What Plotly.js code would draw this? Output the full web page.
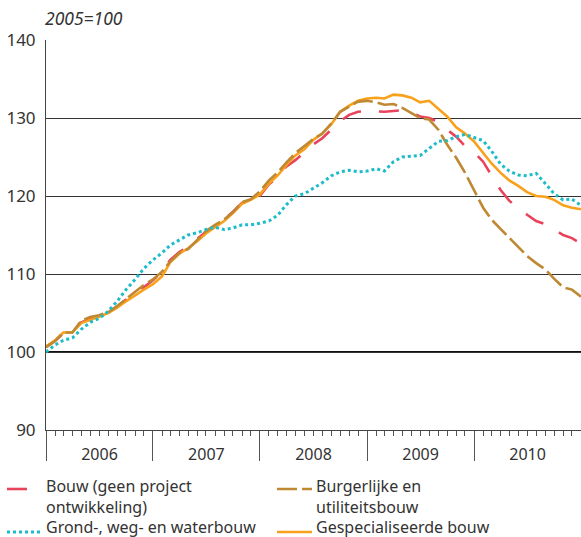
<!DOCTYPE html>
<html>
<head>
<meta charset="utf-8">
<script src="https://cdn.plot.ly/plotly-3.0.1.min.js"></script>
<style>
  html, body { margin: 0; padding: 0; background: #fff; }
  #chart { width: 581px; height: 537px; }
</style>
</head>
<body>
<div id="chart"></div>
<script>
// Monthly dates, Jan 2006 .. Jan 2011
const months = [
  "2006-01-01","2006-02-01","2006-03-01","2006-04-01","2006-05-01","2006-06-01",
  "2006-07-01","2006-08-01","2006-09-01","2006-10-01","2006-11-01","2006-12-01",
  "2007-01-01","2007-02-01","2007-03-01","2007-04-01","2007-05-01","2007-06-01",
  "2007-07-01","2007-08-01","2007-09-01","2007-10-01","2007-11-01","2007-12-01",
  "2008-01-01","2008-02-01","2008-03-01","2008-04-01","2008-05-01","2008-06-01",
  "2008-07-01","2008-08-01","2008-09-01","2008-10-01","2008-11-01","2008-12-01",
  "2009-01-01","2009-02-01","2009-03-01","2009-04-01","2009-05-01","2009-06-01",
  "2009-07-01","2009-08-01","2009-09-01","2009-10-01","2009-11-01","2009-12-01",
  "2010-01-01","2010-02-01","2010-03-01","2010-04-01","2010-05-01","2010-06-01",
  "2010-07-01","2010-08-01","2010-09-01","2010-10-01","2010-11-01","2010-12-01",
  "2011-01-01"
];

// legend texts, one list of lines per series
const bouwLabel = ["Bouw (geen project", "ontwikkeling)"];
const burgerlijkLabel = ["Burgerlijke en", "utiliteitsbouw"];
const grondLabel = ["Grond-, weg- en waterbouw"];
const gespecialiseerdLabel = ["Gespecialiseerde bouw"];

const bouw = [
  100.7,101.4,102.4,102.5,103.8,104.2,104.6,105.1,105.8,106.7,107.6,108.3,
  109.2,110.3,111.8,112.8,113.5,114.5,115.4,116.1,117.0,118.0,119.1,119.4,
  120.0,121.5,122.4,123.8,124.6,125.6,126.6,127.4,128.5,129.6,130.4,130.8,
  130.9,130.8,130.8,130.9,131.0,130.7,130.2,130.0,129.5,128.5,127.6,126.4,
  125.6,124.4,122.7,120.8,119.4,118.4,117.6,116.8,116.4,115.7,115.0,114.6,
  113.9
];

const burgerlijk = [
  100.6,101.4,102.5,102.5,104.0,104.5,104.7,105.1,105.9,106.8,107.8,108.6,
  109.3,110.3,111.6,112.7,113.2,114.4,115.5,116.3,117.0,117.9,119.2,119.6,
  120.6,122.0,123.0,124.3,125.5,126.4,127.3,128.0,129.3,130.8,131.5,132.1,
  132.2,132.0,131.7,131.8,131.3,130.6,130.0,129.8,128.5,126.6,124.9,123.0,
  120.8,118.5,117.0,115.8,114.6,113.4,112.3,111.4,110.6,109.4,108.3,108.0,
  107.1
];

const grond = [
  100.0,100.9,101.5,101.8,102.9,103.8,104.3,105.2,106.5,108.0,109.3,110.7,
  111.8,112.7,113.7,114.4,115.0,115.3,115.7,116.0,115.7,115.9,116.3,116.3,
  116.5,116.8,117.5,118.9,120.0,120.3,121.0,121.7,122.6,123.1,123.3,123.1,
  123.2,123.5,123.2,124.4,125.0,125.1,125.2,126.1,127.0,127.1,127.6,127.9,
  127.5,127.1,125.8,124.1,123.2,122.7,122.6,122.9,121.6,120.3,119.5,119.6,
  118.8
];

const gespecialiseerd = [
  100.7,101.5,102.5,102.5,103.7,104.1,104.5,105.0,105.7,106.5,107.3,108.0,
  108.7,109.7,111.5,112.6,113.3,114.2,115.2,116.0,116.8,117.8,119.0,119.5,
  120.2,121.6,122.6,124.0,125.2,126.0,127.2,128.0,129.2,130.8,131.6,132.2,
  132.5,132.6,132.5,133.0,132.9,132.6,132.0,132.2,131.2,130.2,128.8,128.0,
  127.0,125.5,124.2,123.0,122.0,121.3,120.5,120.0,119.9,119.5,118.8,118.5,
  118.3
];

const yTicks = [90, 100, 110, 120, 130, 140];
const unitLabel = "2005=100";

const FONT = "Noto Sans, Open Sans, sans-serif";
const TXT = "#333333";

const styles = {
  bouw:  { color: "#e9435c", width: 2.6, dash: "20px,18px" },
  burg:  { color: "#bf8833", width: 2.6, dash: "20px,5px" },
  grond: { color: "#1cbcc9", width: 3,   dash: "3px,3px" },
  gesp:  { color: "#f9a11b", width: 2.6, dash: "solid" }
};

const traces = [
  { x: months, y: bouw, name: bouwLabel.join(" "), type: "scatter", mode: "lines", line: styles.bouw },
  { x: months, y: gespecialiseerd, name: gespecialiseerdLabel.join(" "), type: "scatter", mode: "lines", line: styles.gesp },
  { x: months, y: burgerlijk, name: burgerlijkLabel.join(" "), type: "scatter", mode: "lines", line: styles.burg },
  { x: months, y: grond, name: grondLabel.join(" "), type: "scatter", mode: "lines", line: styles.grond }
];

// ---- hand-placed legend (plot area: x 46..581 px, y 40..430 px) ----
const PL = 46, PW = 535, PB = 430, PH = 390;
const px = p => (p - PL) / PW;
const py = p => (PB - p) / PH;

// sx: symbol start, tx: text start, ty: text top, sy: symbol y (all px)
const legendItems = [
  { lines: bouwLabel, style: styles.bouw, sx: 7, tx: 45, ty: 474, sy: 489 },
  { lines: burgerlijkLabel, style: styles.burg, sx: 277, tx: 315, ty: 474, sy: 489 },
  { lines: grondLabel, style: styles.grond, sx: 7, tx: 45, ty: 515, sy: 532 },
  { lines: gespecialiseerdLabel, style: styles.gesp, sx: 277, tx: 315, ty: 515, sy: 532 }
];

const shapes = [
  { type: "line", xref: "paper", yref: "y", x0: 0, x1: 1, y0: 100, y1: 100,
    line: { color: "#111111", width: 2 }, layer: "below" }
];
const annotations = [
  { text: unitLabel, xref: "paper", yref: "paper", x: px(44), y: py(18), xanchor: "left", yanchor: "middle",
    showarrow: false, borderpad: 0, font: { family: FONT, size: 17.5, color: TXT, style: "italic" } }
];
legendItems.forEach(it => {
  shapes.push({ type: "line", xref: "paper", yref: "paper",
    x0: px(it.sx), x1: px(it.sx + 35), y0: py(it.sy), y1: py(it.sy),
    line: it.style });
  annotations.push({ text: it.lines.join("<br>"), xref: "paper", yref: "paper",
    x: px(it.tx), y: py(it.ty), xanchor: "left", yanchor: "top", borderpad: 0,
    showarrow: false, align: "left", font: { family: FONT, size: 16, color: TXT } });
});

const layout = {
  width: 581, height: 537,
  margin: { l: 46, r: 0, t: 40, b: 107 },
  paper_bgcolor: "#ffffff", plot_bgcolor: "#ffffff",
  font: { family: FONT, color: TXT, size: 16 },
  showlegend: false,
  xaxis: {
    type: "date",
    range: ["2006-01-01", "2011-01-01"],
    tick0: "2006-01-01", dtick: "M12",
    tickformat: "%Y", ticklabelmode: "period",
    ticks: "outside", ticklen: 30, tickwidth: 1, tickcolor: "#555555",
    ticklabelstandoff: -20, automargin: false,
    minor: { dtick: "M1", ticks: "outside", ticklen: 5, tickwidth: 1, tickcolor: "#555555", showgrid: false },
    showline: true, linecolor: "#444444", linewidth: 1,
    showgrid: false, zeroline: false, fixedrange: true,
    tickfont: { family: FONT, size: 16, color: TXT }
  },
  yaxis: {
    range: [90, 140], automargin: false,
    tickvals: yTicks, ticktext: yTicks.map(String),
    ticks: "outside", ticklen: 6, tickcolor: "rgba(0,0,0,0)",
    showline: true, linecolor: "#444444", linewidth: 1,
    showgrid: true, gridcolor: "#333333", gridwidth: 1,
    zeroline: false, fixedrange: true,
    tickfont: { family: FONT, size: 17, color: TXT }
  },
  shapes: shapes,
  annotations: annotations
};

Plotly.newPlot("chart", traces, layout, { staticPlot: true, displayModeBar: false });
</script>
</body>
</html>
